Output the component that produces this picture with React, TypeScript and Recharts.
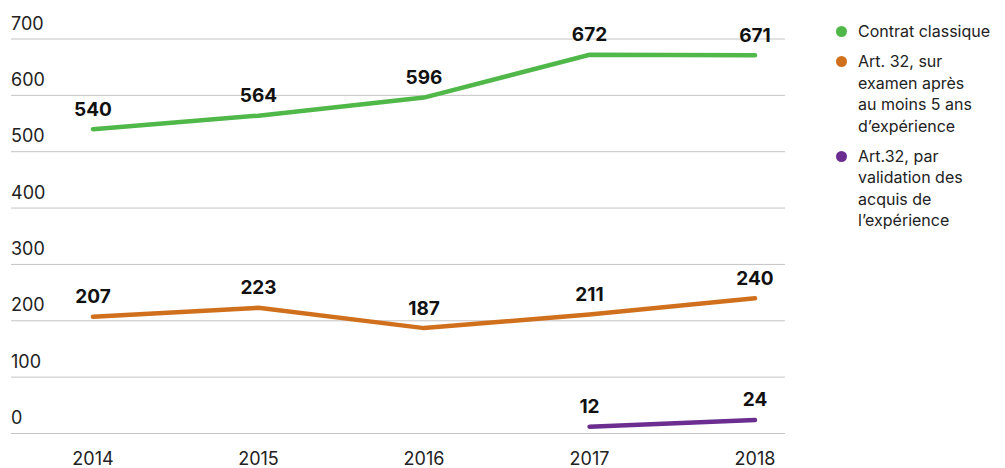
import { CartesianGrid, LabelList, Line, LineChart, XAxis, YAxis } from "recharts";

const years = ["2014", "2015", "2016", "2017", "2018"];
const classique = [540, 564, 596, 672, 671];
const examen = [207, 223, 187, 211, 240];
const validation = [null, null, null, 12, 24];
const yTicks = [0, 100, 200, 300, 400, 500, 600, 700];

const series = [
  { key: "classique", name: "Contrat classique", color: "#4fb848" },
  { key: "examen", name: "Art. 32, sur\nexamen après\nau moins 5 ans\nd’expérience", color: "#d0701d" },
  { key: "validation", name: "Art.32, par\nvalidation des\nacquis de\nl’expérience", color: "#6b2d90" },
];

const data = years.map((year, i) => ({
  year,
  classique: classique[i],
  examen: examen[i],
  validation: validation[i],
}));

const font = "Inter, 'Noto Sans', sans-serif";

function YTick({ y, payload }: any) {
  return (
    <text x={11} y={y - 16} dominantBaseline="central" textAnchor="start" fontFamily={font} fontSize={18} fill="#222">
      {payload.value}
    </text>
  );
}

function XTick({ x, payload }: any) {
  return (
    <text x={x} y={458} dominantBaseline="central" textAnchor="middle" fontFamily={font} fontSize={18} fill="#222">
      {payload.value}
    </text>
  );
}

function ValueLabel({ x, y, value }: any) {
  if (value == null) return null;
  return (
    <text x={x} y={y - 20} dominantBaseline="central" textAnchor="middle" fontFamily={font} fontSize={19} fontWeight={700} fill="#111">
      {value}
    </text>
  );
}

function LegendBox() {
  return (
    <div style={{ position: "absolute", left: 836, top: 21, width: 170, fontFamily: font, fontSize: 16, color: "#222" }}>
      {series.map((s) => (
        <div key={s.key} style={{ display: "flex", marginBottom: 8.5, lineHeight: "21.5px" }}>
          <span
            style={{
              width: 11,
              height: 11,
              borderRadius: "50%",
              background: s.color,
              marginTop: 5,
              marginRight: 11,
              flex: "none",
            }}
          />
          <span style={{ whiteSpace: "pre-line" }}>{s.name}</span>
        </div>
      ))}
    </div>
  );
}

export default function App() {
  return (
    <div style={{ position: "absolute", left: 0, top: 0, width: 1005, height: 468, background: "#fff" }}>
      <LineChart width={1005} height={468} data={data} margin={{ top: 39, right: 220, bottom: 0, left: 10 }}>
        <CartesianGrid vertical={false} stroke="#c4c4c4" />
        <XAxis
          dataKey="year"
          axisLine={false}
          tickLine={false}
          height={34.5}
          padding={{ left: 82, right: 30 }}
          tick={<XTick />}
          interval={0}
        />
        <YAxis domain={[0, 700]} ticks={yTicks} width={1} axisLine={false} tickLine={false} tick={<YTick />} interval={0} />
        {series.map((s) => (
          <Line
            key={s.key}
            dataKey={s.key}
            name={s.name}
            stroke={s.color}
            strokeWidth={4.5}
            strokeLinecap="round"
            dot={false}
            activeDot={false}
            isAnimationActive={false}
          >
            <LabelList dataKey={s.key} content={<ValueLabel />} />
          </Line>
        ))}
      </LineChart>
      <LegendBox />
    </div>
  );
}
